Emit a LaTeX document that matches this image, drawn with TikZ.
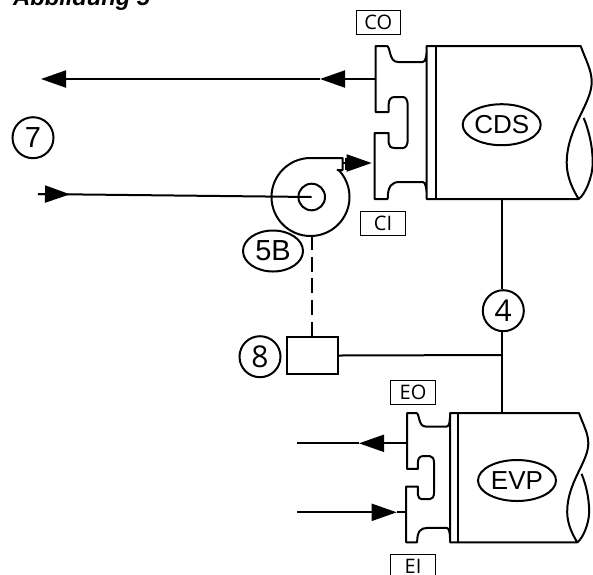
\documentclass[tikz,border=0pt]{standalone}
\usepackage{fontspec}
\setmainfont{Liberation Sans}
\newfontfamily\tagfont{Open Sans}
\usetikzlibrary{arrows.meta}
\usetikzlibrary{shapes.geometric}
\tikzset{
    wire/.style={line width=2pt},
    body/.style={line width=2pt,line join=round},
    tip/.style={-{Triangle[length=25pt,width=17pt]}},
    tagbox/.style={draw,line width=1pt,font=\fontsize{20}{20}\tagfont,minimum width=44.5pt,minimum height=24pt,inner sep=0pt},
    callout/.style={draw,circle,line width=2pt,font=\fontsize{29}{29}\selectfont,minimum size=41pt,inner sep=0pt},
    oval/.style={draw,ellipse,line width=2pt,font=\fontsize{26}{26}\selectfont,inner sep=0pt},
}
% flange x, top y, scale, x of the wavy end
\newcommand{\exchanger}[4]{
    \begin{scope}[shift={(#1,#2)},scale=#3]
        \coordinate (topin) at (51,0);
        \coordinate (botin) at (51,153);
        \draw[body] (0,0) -- (11,0) .. controls (15,0) and (13,16) .. (22,16) -- (47,16) .. controls (50,16) and (51,10) .. (51,0)
            -- (51,153) .. controls (51,142) and (50,136) .. (47,136) -- (24,136) .. controls (16,136) and (12,140) .. (12,153)
            -- (-1,153) -- (-1,87) -- (13,87) -- (13,97) .. controls (13,100) and (15,102) .. (19,102) -- (27,102) .. controls (30,102) and (32,99) .. (32,94)
            -- (32,59) .. controls (32,54) and (30,51) .. (27,51) -- (19,51) .. controls (15,51) and (13,54) .. (13,58) -- (13,66) -- (0,66) -- cycle;
        \draw[body] (60,0) -- (60,153);
    \end{scope}
    \begin{scope}[shift={(#4,#2)},scale=#3]
        \draw[body] (topin) -- (0,0) .. controls (5,14) and (11,24) .. (11,36) .. controls (11,58) and (-14,82) .. (-14,117) .. controls (-14,132) and (-7,145) .. (-2,153) -- (botin);
        \draw[body] (-2,153) .. controls (5,148) and (12,130) .. (12,117) .. controls (12,100) and (8,84) .. (3,72);
    \end{scope}
}
\begin{document}
\begin{tikzpicture}[x=1pt,y=-1pt]
    \useasboundingbox (0,0) rectangle (593,574);

    \node[anchor=base west,inner sep=0pt,font=\fontsize{23.7}{24}\selectfont\bfseries\itshape] (title) at (13,5) {Abbildung 5};

    \exchanger{375.7}{46}{1}{580.7}
    \exchanger{407}{413}{0.845}{579}

    \node[oval,minimum width=78pt,minimum height=41pt] (cds) at (501.7,124.7) {CDS};
    \node[oval,minimum width=78pt,minimum height=41pt] (evp) at (517,480.5) {EVP};
    \node[tagbox] (co) at (378.3,22.7) {CO};
    \node[tagbox] (ci) at (383,223.5) {CI};
    \node[tagbox] (eo) at (413,392.3) {EO};
    \node[tagbox] (ei) at (413,566) {EI};

    \node[callout] (seven) at (33,137.7) {7};
    \node[callout,font=\fontsize{30}{30}\tagfont] (four) at (503.3,310.7) {4};
    \node[callout,font=\fontsize{30}{30}\tagfont] (eight) at (260,356.7) {8};
    \node[oval,minimum width=60pt,minimum height=41pt,font=\fontsize{29}{29}\selectfont] (fiveb) at (273,251) {5B};
    \node[draw,line width=2pt,minimum width=51pt,minimum height=37.6pt,inner sep=0pt] (drive) at (312.2,355.5) {};

    % fan
    \draw[body] (310.5,158) arc[start angle=270,end angle=-42,radius=39] -- (337.5,170) -- (342.7,170) -- (342.7,158) -- cycle;
    \draw[body] (345.5,158) -- (345.5,170);
    \node[draw,circle,line width=2pt,minimum size=26.6pt,inner sep=0pt] (hub) at (311.7,197) {};

    \coordinate (cdsfoot) at (501.7,199);
    \coordinate (evphead) at (501.7,413);
    \coordinate (tee) at (501.7,355);
    \coordinate (fanfoot) at (312.2,235);
    \coordinate (coport) at (375.7,79);
    \coordinate (coturn) at (320,79);
    \coordinate (coend) at (41,79);
    \coordinate (inlet) at (38,194);
    \coordinate (inletmid) at (70,194.3);
    \coordinate (fanport) at (342.7,163);
    \coordinate (ciport) at (371.7,163);
    \coordinate (eoport) at (407,443.3);
    \coordinate (eoturn) at (359,443.3);
    \coordinate (eoend) at (297,443.3);
    \coordinate (eiport) at (406.7,512.3);
    \coordinate (eiturn) at (396.7,512.3);
    \coordinate (eistart) at (297,512.3);

    % lines
    \draw[wire,tip] (coport) -- (coturn);
    \draw[wire,tip] (coturn) -- (coend);
    \draw[wire,tip] (inlet) -- (inletmid);
    \draw[wire] (inlet) -- (hub.center);
    \draw[wire,tip] (fanport) -- (ciport);
    \draw[wire] (cdsfoot) -- (cdsfoot |- four.north);
    \draw[wire] (tee |- four.south) -- (evphead);
    \draw[wire] (drive.east) -- (tee);
    \draw[wire,line width=2.4pt,dash pattern=on 15pt off 6.7pt] (fanfoot) -- (drive.north);
    \draw[wire,tip] (eoport) -- (eoturn);
    \draw[wire] (eoturn) -- (eoend);
    \draw[wire,tip] (eistart) -- (eiturn);
    \draw[wire] (eiturn) -- (eiport);
\end{tikzpicture}
\end{document}
